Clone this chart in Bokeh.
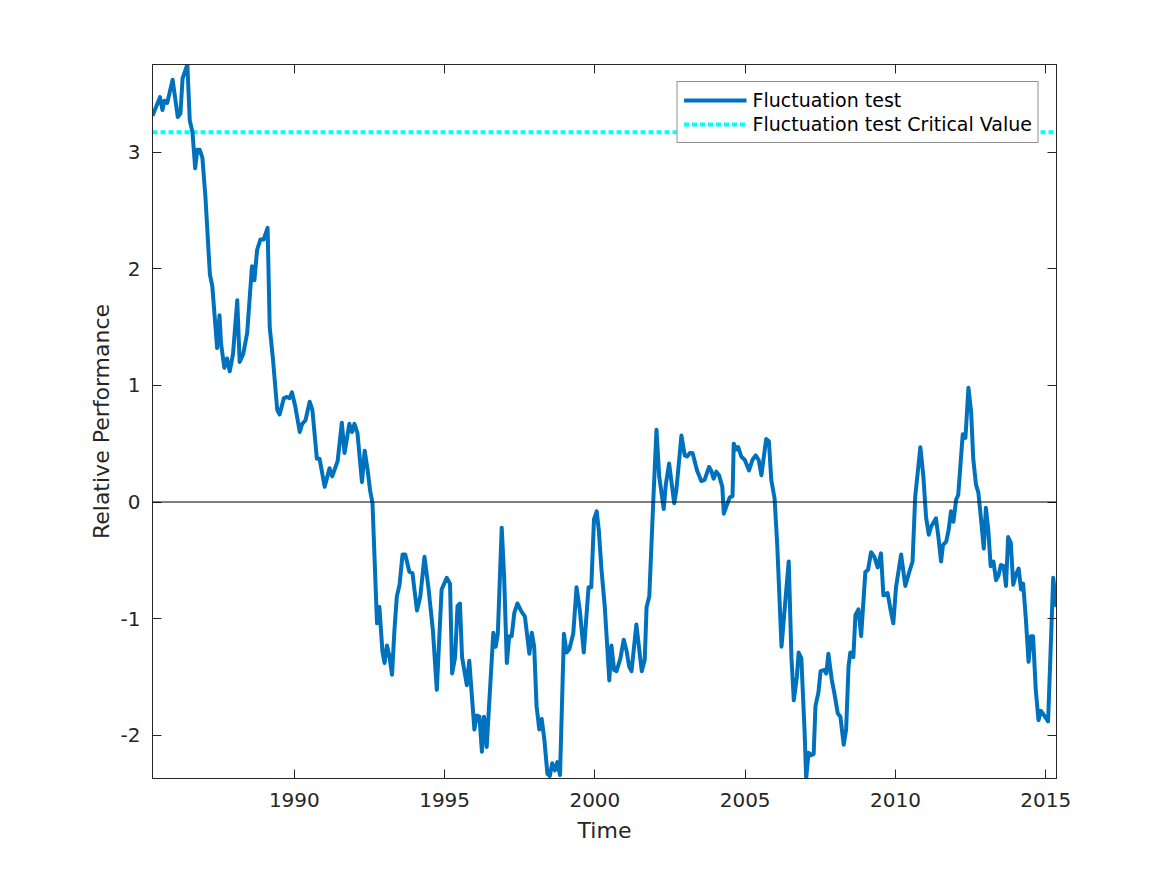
from bokeh.plotting import figure
from bokeh.models import (Range1d, LinearAxis, FixedTicker, Span, Legend, LegendItem,
                          CustomJSTickFormatter)
from bokeh.embed import file_html
from bokeh.resources import INLINE

# ---------------- data ----------------
years = [
    1985.28, 1985.53, 1985.61, 1985.68, 1985.77, 1985.95, 1986.12, 1986.21, 1986.28, 1986.44,
    1986.52, 1986.61, 1986.70, 1986.77, 1986.85, 1986.94, 1987.04, 1987.19, 1987.27, 1987.34,
    1987.43, 1987.51, 1987.56, 1987.67, 1987.76, 1987.85, 1987.96, 1988.10, 1988.18, 1988.30,
    1988.43, 1988.59, 1988.67, 1988.76, 1988.87, 1988.98, 1989.11, 1989.18, 1989.29, 1989.43,
    1989.51, 1989.65, 1989.76, 1989.84, 1989.92, 1990.03, 1990.18, 1990.26, 1990.37, 1990.51,
    1990.60, 1990.75, 1990.84, 1991.01, 1991.17, 1991.26, 1991.44, 1991.58, 1991.67, 1991.83,
    1991.92, 1992.00, 1992.10, 1992.25, 1992.34, 1992.44, 1992.52, 1992.60, 1992.75, 1992.83,
    1992.93, 1993.00, 1993.08, 1993.17, 1993.25, 1993.33, 1993.41, 1993.50, 1993.60, 1993.69,
    1993.83, 1993.93, 1994.08, 1994.19, 1994.33, 1994.46, 1994.61, 1994.74, 1994.90, 1995.07,
    1995.18, 1995.25, 1995.35, 1995.43, 1995.51, 1995.58, 1995.74, 1995.82, 1995.99, 1996.07,
    1996.16, 1996.24, 1996.31, 1996.40, 1996.62, 1996.70, 1996.77, 1996.90, 1996.98, 1997.07,
    1997.15, 1997.23, 1997.32, 1997.42, 1997.56, 1997.67, 1997.82, 1997.90, 1997.98, 1998.06,
    1998.15, 1998.23, 1998.32, 1998.42, 1998.50, 1998.58, 1998.67, 1998.75, 1998.84, 1998.97,
    1999.06, 1999.15, 1999.28, 1999.39, 1999.50, 1999.63, 1999.79, 1999.88, 1999.97, 2000.06,
    2000.13, 2000.22, 2000.33, 2000.48, 2000.55, 2000.64, 2000.72, 2000.85, 2000.96, 2001.05,
    2001.14, 2001.22, 2001.38, 2001.56, 2001.66, 2001.72, 2001.81, 2001.94, 2002.05, 2002.14,
    2002.29, 2002.36, 2002.47, 2002.64, 2002.71, 2002.88, 2002.99, 2003.07, 2003.16, 2003.25,
    2003.40, 2003.54, 2003.65, 2003.80, 2003.87, 2003.95, 2004.04, 2004.13, 2004.24, 2004.29,
    2004.40, 2004.49, 2004.58, 2004.62, 2004.71, 2004.77, 2004.87, 2004.99, 2005.13, 2005.24,
    2005.35, 2005.45, 2005.54, 2005.70, 2005.79, 2005.87, 2005.98, 2006.07, 2006.21, 2006.37,
    2006.45, 2006.54, 2006.62, 2006.72, 2006.78, 2006.87, 2006.98, 2007.03, 2007.11, 2007.20,
    2007.28, 2007.34, 2007.44, 2007.51, 2007.64, 2007.70, 2007.77, 2007.88, 2007.97, 2008.08,
    2008.17, 2008.28, 2008.36, 2008.44, 2008.50, 2008.60, 2008.67, 2008.77, 2008.86, 2008.91,
    2009.00, 2009.09, 2009.19, 2009.30, 2009.41, 2009.52, 2009.60, 2009.74, 2009.85, 2009.93,
    2010.02, 2010.19, 2010.33, 2010.46, 2010.57, 2010.66, 2010.83, 2010.93, 2011.02, 2011.11,
    2011.19, 2011.35, 2011.43, 2011.52, 2011.58, 2011.69, 2011.77, 2011.85, 2011.93, 2012.02,
    2012.09, 2012.24, 2012.33, 2012.43, 2012.52, 2012.59, 2012.68, 2012.76, 2012.85, 2012.94,
    2013.01, 2013.09, 2013.17, 2013.26, 2013.35, 2013.43, 2013.51, 2013.60, 2013.68, 2013.75,
    2013.84, 2013.92, 2014.01, 2014.10, 2014.18, 2014.25, 2014.34, 2014.43, 2014.51, 2014.58,
    2014.67, 2014.76, 2014.84, 2014.95, 2015.08, 2015.25, 2015.36,
]
fluctuation = [
    3.31, 3.47, 3.36, 3.44, 3.42, 3.62, 3.30, 3.33, 3.63, 3.75,
    3.27, 3.17, 2.86, 3.02, 3.02, 2.95, 2.62, 1.95, 1.85, 1.62,
    1.32, 1.60, 1.36, 1.15, 1.23, 1.12, 1.27, 1.73, 1.20, 1.27,
    1.45, 2.02, 1.90, 2.16, 2.25, 2.25, 2.35, 1.50, 1.22, 0.79,
    0.75, 0.89, 0.90, 0.89, 0.94, 0.82, 0.60, 0.67, 0.70, 0.86,
    0.79, 0.37, 0.37, 0.13, 0.29, 0.22, 0.35, 0.68, 0.42, 0.67,
    0.60, 0.67, 0.59, 0.17, 0.44, 0.27, 0.10, -0.01, -1.04, -0.90,
    -1.28, -1.38, -1.23, -1.33, -1.48, -1.10, -0.81, -0.71, -0.45, -0.45,
    -0.60, -0.61, -0.93, -0.81, -0.47, -0.73, -1.10, -1.61, -0.75, -0.65,
    -0.70, -1.47, -1.33, -0.89, -0.87, -1.33, -1.57, -1.36, -1.95, -1.83,
    -1.84, -2.14, -1.84, -2.10, -1.12, -1.24, -1.13, -0.22, -0.64, -1.38,
    -1.15, -1.15, -0.95, -0.87, -0.94, -0.98, -1.30, -1.12, -1.24, -1.75,
    -1.95, -1.86, -2.04, -2.33, -2.35, -2.24, -2.30, -2.23, -2.34, -1.13,
    -1.29, -1.26, -1.13, -0.73, -0.93, -1.29, -0.73, -0.73, -0.15, -0.08,
    -0.24, -0.58, -0.90, -1.53, -1.23, -1.44, -1.45, -1.34, -1.18, -1.27,
    -1.41, -1.45, -1.05, -1.45, -1.35, -0.90, -0.81, -0.01, 0.62, 0.22,
    -0.06, 0.15, 0.33, -0.01, 0.10, 0.57, 0.40, 0.39, 0.42, 0.42,
    0.27, 0.18, 0.19, 0.30, 0.27, 0.20, 0.26, 0.23, 0.13, -0.10,
    -0.02, 0.04, 0.05, 0.50, 0.45, 0.47, 0.39, 0.36, 0.27, 0.36,
    0.40, 0.36, 0.23, 0.54, 0.52, 0.19, 0.03, -0.38, -1.24, -0.75,
    -0.51, -1.33, -1.70, -1.50, -1.29, -1.34, -1.98, -2.37, -2.15, -2.17,
    -2.16, -1.75, -1.63, -1.45, -1.44, -1.47, -1.30, -1.52, -1.64, -1.81,
    -1.84, -2.08, -1.95, -1.41, -1.29, -1.33, -0.97, -0.92, -1.15, -0.95,
    -0.60, -0.58, -0.43, -0.47, -0.56, -0.44, -0.80, -0.78, -0.94, -1.04,
    -0.73, -0.45, -0.72, -0.60, -0.51, 0.05, 0.47, 0.22, -0.13, -0.28,
    -0.21, -0.14, -0.30, -0.51, -0.37, -0.34, -0.24, -0.08, -0.17, 0.02,
    0.06, 0.58, 0.55, 0.98, 0.77, 0.37, 0.15, 0.08, -0.15, -0.40,
    -0.05, -0.24, -0.55, -0.51, -0.67, -0.63, -0.54, -0.55, -0.72, -0.30,
    -0.35, -0.71, -0.62, -0.57, -0.75, -0.70, -1.00, -1.37, -1.15, -1.15,
    -1.61, -1.87, -1.79, -1.83, -1.88, -0.65, -0.90,
]
critical_value = 3.17
zero_level = 0.0
x_ticks = [1990, 1995, 2000, 2005, 2010, 2015]
y_ticks = [-2, -1, 0, 1, 2, 3]
series_label = "Fluctuation test"
critical_label = "Fluctuation test Critical Value"
x_title = "Time"
y_title = "Relative Performance"

# ---------------- styling ----------------
FONT = "DejaVu Sans"
TXT = "#262626"
BLUE = "#0072BD"
CYAN = "#00FFFF"

W, H = 1160, 868
p = figure(width=W, height=H, output_backend="svg", toolbar_location=None,
           x_range=Range1d(years[0], years[-1]),
           y_range=Range1d(min(fluctuation), max(fluctuation)),
           min_border_left=152, min_border_right=W - 1056,
           min_border_top=64, min_border_bottom=H - 778,
           background_fill_color="white", border_fill_color="white")

p.xgrid.visible = False
p.ygrid.visible = False
p.outline_line_color = TXT
p.outline_line_width = 1

def style_axis(ax, ticks, show_labels=True):
    ax.ticker = FixedTicker(ticks=ticks)
    ax.axis_line_color = TXT
    ax.axis_line_width = 1
    ax.major_tick_line_color = TXT
    ax.major_tick_line_width = 1
    ax.major_tick_in = 9
    ax.major_tick_out = 0
    ax.minor_tick_line_color = None
    ax.major_label_text_font = FONT
    ax.major_label_text_color = TXT
    ax.axis_label_text_font = FONT
    ax.axis_label_text_color = TXT
    ax.axis_label_text_font_style = "normal"
    ax.axis_label_text_font_size = "22px"
    ax.major_label_text_font_size = "20px"
    if show_labels:
        ax.major_label_overrides = {t: str(t) for t in ticks}
    else:
        ax.formatter = CustomJSTickFormatter(code="return '';")
        ax.major_label_standoff = 0

style_axis(p.xaxis[0], x_ticks)
style_axis(p.yaxis[0], y_ticks)
p.xaxis[0].axis_label = x_title
p.yaxis[0].axis_label = y_title
p.xaxis[0].major_label_standoff = 14
p.xaxis[0].axis_label_standoff = 8
p.yaxis[0].major_label_standoff = 12
p.yaxis[0].axis_label_standoff = 4

top_ax = LinearAxis()
style_axis(top_ax, x_ticks, show_labels=False)
p.add_layout(top_ax, "above")
right_ax = LinearAxis()
style_axis(right_ax, y_ticks, show_labels=False)
p.add_layout(right_ax, "right")

# zero reference line
p.add_layout(Span(location=zero_level, dimension="width",
                  line_color="black", line_width=1))

# critical value line (spans whole x range)
r_crit = p.line([years[0], years[-1]], [critical_value, critical_value],
                line_color=CYAN, line_width=4, line_dash="5 3")

# main series
r_main = p.line(years, fluctuation, line_color=BLUE, line_width=4,
                line_join="round")

legend = Legend(items=[LegendItem(label=series_label, renderers=[r_main]),
                       LegendItem(label=critical_label, renderers=[r_crit])],
                location="top_right")
legend.margin = 17
legend.padding = 6
legend.spacing = 0
legend.label_height = 24
legend.glyph_height = 24
legend.glyph_width = 63
legend.label_standoff = 6
legend.label_text_font = FONT
legend.label_text_font_size = "19px"
legend.label_text_color = "black"
legend.border_line_color = TXT
legend.border_line_width = 1
legend.background_fill_color = "white"
legend.background_fill_alpha = 1
p.add_layout(legend, "center")

open("out.html", "w").write(file_html(p, INLINE))
